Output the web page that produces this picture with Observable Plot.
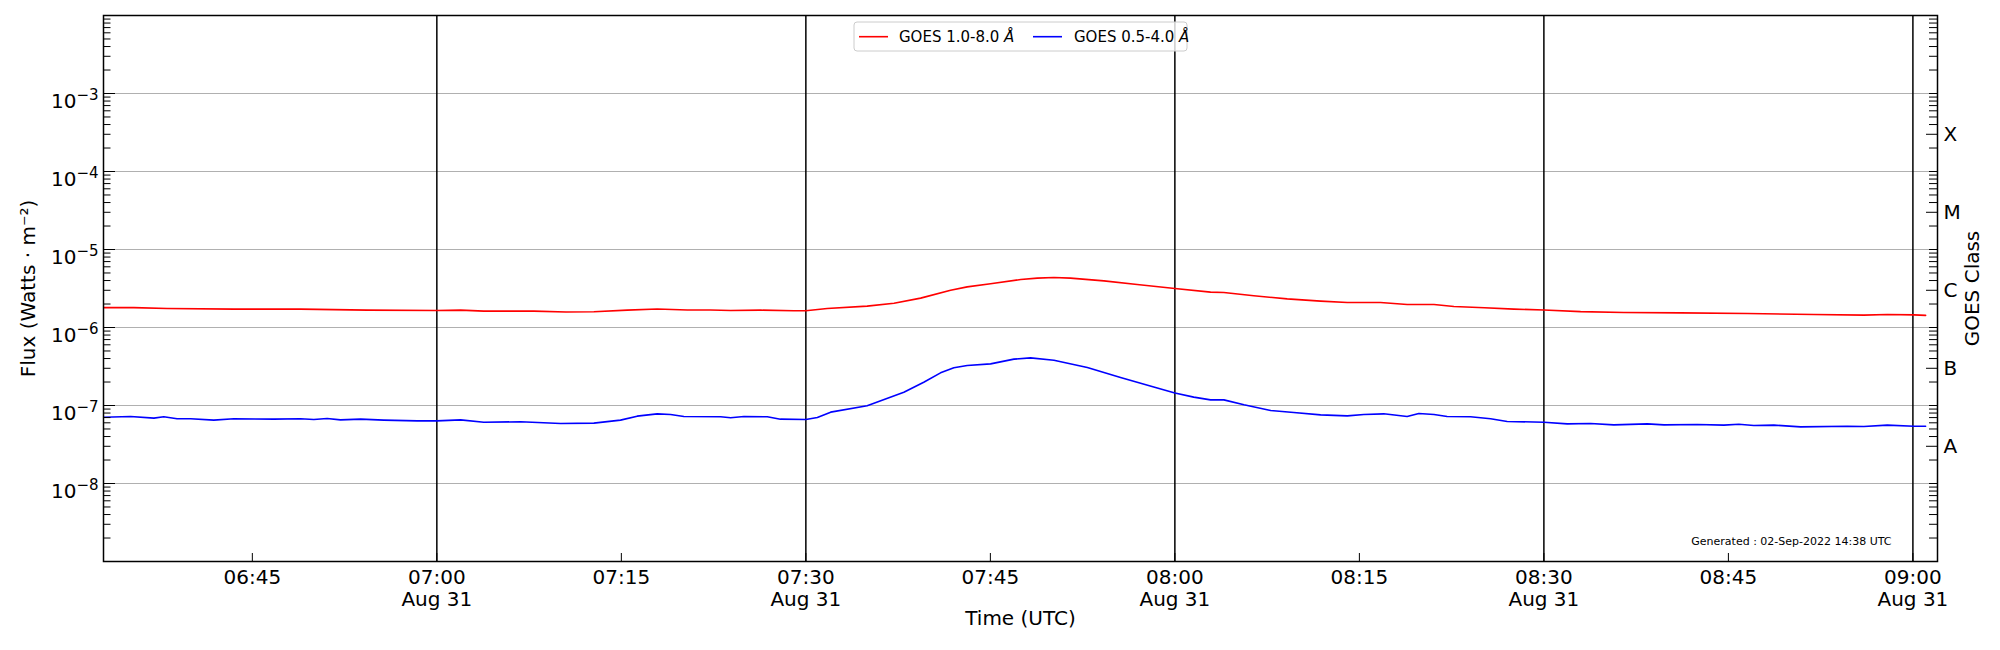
<!DOCTYPE html>
<html>
<head>
<meta charset="utf-8">
<script src="https://cdn.jsdelivr.net/npm/d3@7"></script>
<script src="https://cdn.jsdelivr.net/npm/@observablehq/plot@0.6"></script>
<style>
  html, body { margin: 0; padding: 0; background: #fff; }
  #chart { width: 2000px; height: 650px; }
</style>
</head>
<body>
<div id="chart"></div>
<script>
// ---- Data ----
const day = "2022-08-31";

const longTimes = ["06:32:56","06:35:22","06:38:05","06:43:30","06:48:55","06:54:20","07:00:00","07:01:56","07:03:49","07:07:53","07:10:30","07:12:46","07:15:29","07:17:55","07:20:22","07:22:15","07:23:53","07:26:19","07:29:01","07:30:00","07:31:44","07:34:59","07:37:10","07:39:20","07:41:46","07:43:07","07:45:01","07:47:28","07:48:49","07:50:10","07:51:31","07:54:14","07:56:56","08:00:00","08:02:54","08:03:59","08:06:25","08:09:08","08:11:51","08:14:01","08:16:43","08:18:53","08:21:04","08:22:41","08:25:10","08:27:34","08:30:00","08:32:59","08:36:30","08:41:07","08:46:32","08:51:57","08:56:01","08:57:55","09:00:05","09:01:02"];
const longFlux = [1.80e-6,1.80e-6,1.75e-6,1.72e-6,1.72e-6,1.67e-6,1.65e-6,1.67e-6,1.62e-6,1.62e-6,1.58e-6,1.59e-6,1.67e-6,1.73e-6,1.68e-6,1.68e-6,1.65e-6,1.67e-6,1.64e-6,1.64e-6,1.75e-6,1.88e-6,2.05e-6,2.38e-6,3.01e-6,3.32e-6,3.63e-6,4.12e-6,4.29e-6,4.37e-6,4.29e-6,3.96e-6,3.56e-6,3.16e-6,2.84e-6,2.81e-6,2.55e-6,2.33e-6,2.18e-6,2.09e-6,2.09e-6,1.97e-6,1.97e-6,1.86e-6,1.79e-6,1.72e-6,1.68e-6,1.60e-6,1.56e-6,1.54e-6,1.51e-6,1.47e-6,1.44e-6,1.47e-6,1.45e-6,1.43e-6];

const shortTimes = ["06:32:56","06:35:06","06:37:00","06:37:48","06:38:53","06:39:59","06:41:52","06:43:30","06:46:45","06:48:55","06:50:00","06:51:05","06:52:10","06:53:48","06:55:41","06:58:25","07:00:00","07:01:56","07:03:49","07:06:48","07:10:04","07:12:46","07:14:56","07:16:17","07:17:55","07:19:00","07:20:05","07:23:04","07:23:53","07:24:58","07:26:52","07:27:56","07:30:00","07:30:56","07:32:01","07:34:59","07:37:58","07:39:35","07:40:57","07:42:02","07:43:07","07:45:01","07:46:55","07:48:16","07:50:10","07:52:53","07:55:35","07:58:17","08:00:00","08:01:32","08:02:54","08:03:59","08:05:37","08:07:47","08:09:40","08:11:51","08:14:01","08:15:22","08:16:59","08:18:53","08:19:50","08:21:04","08:22:08","08:24:02","08:25:40","08:27:01","08:30:00","08:31:54","08:33:48","08:35:41","08:38:25","08:39:46","08:42:28","08:44:38","08:45:51","08:47:04","08:48:42","08:50:52","08:54:40","08:56:01","08:57:55","09:00:05","09:01:02"];
const shortFlux = [7.08e-8,7.23e-8,6.89e-8,7.16e-8,6.75e-8,6.75e-8,6.49e-8,6.75e-8,6.68e-8,6.75e-8,6.62e-8,6.82e-8,6.55e-8,6.68e-8,6.49e-8,6.35e-8,6.35e-8,6.55e-8,6.11e-8,6.18e-8,5.87e-8,5.94e-8,6.49e-8,7.30e-8,7.81e-8,7.67e-8,7.23e-8,7.16e-8,6.95e-8,7.23e-8,7.16e-8,6.68e-8,6.62e-8,7.02e-8,8.22e-8,9.91e-8,1.48e-7,1.99e-7,2.62e-7,3.04e-7,3.26e-7,3.42e-7,3.93e-7,4.08e-7,3.81e-7,3.07e-7,2.29e-7,1.73e-7,1.45e-7,1.28e-7,1.18e-7,1.18e-7,1.02e-7,8.63e-8,8.13e-8,7.59e-8,7.37e-8,7.67e-8,7.82e-8,7.23e-8,7.89e-8,7.67e-8,7.23e-8,7.16e-8,6.75e-8,6.24e-8,6.11e-8,5.82e-8,5.87e-8,5.65e-8,5.82e-8,5.65e-8,5.70e-8,5.60e-8,5.76e-8,5.54e-8,5.60e-8,5.32e-8,5.43e-8,5.38e-8,5.60e-8,5.43e-8,5.43e-8];

const xTickTimes = ["06:45","07:00","07:15","07:30","07:45","08:00","08:15","08:30","08:45","09:00"];
const ruleTimes = ["07:00","07:30","08:00","08:30","09:00"];
const dateLabel = "Aug 31";
const yGridValues = [1e-8,1e-7,1e-6,1e-5,1e-4,1e-3];
const classTicks = [3e-8,3e-7,3e-6,3e-5,3e-4];
const classLabels = ["A","B","C","M","X"];
const legendLabels = ["GOES 1.0-8.0 ", "GOES 0.5-4.0 "];
const seriesColors = ["red","blue"];
const generatedText = "Generated : 02-Sep-2022 14:38 UTC";

// ---- Build ----
const T = s => new Date(`${day}T${s.length === 5 ? s + ":00" : s}Z`);
const longData = longTimes.map((t, i) => ({time: T(t), flux: longFlux[i]}));
const shortData = shortTimes.map((t, i) => ({time: T(t), flux: shortFlux[i]}));
const xTicks = xTickTimes.map(T);
const rules = ruleTimes.map(T);
const classData = classTicks.map((v, i) => ({v, label: classLabels[i]}));

// log minor tick positions
const logTicks = [];
for (let e = -9; e < -2; e++) for (let m = 1; m < 10; m++) logTicks.push(+(m * Math.pow(10, e)).toPrecision(3));
logTicks.push(1e-2);
const leftMajor = logTicks.filter(v => Math.abs(Math.log10(v) - Math.round(Math.log10(v))) < 1e-6);
const leftMinor = logTicks.filter(v => !leftMajor.includes(v));
const rightMinor = logTicks.filter(v => !classTicks.some(c => Math.abs(c - v) / c < 1e-6));

const W = 2000, H = 650;
const mL = 103, mR = 63, mT = 15, mB = 89;
const pW = W - mL - mR, pH = H - mT - mB;

const fmtTime = d3.utcFormat("%H:%M");

const svg = Plot.plot({
  width: W, height: H,
  marginLeft: mL, marginRight: mR, marginTop: mT, marginBottom: mB,
  style: {fontFamily: "'DejaVu Sans', sans-serif", fontSize: "20px", color: "black", background: "white"},
  x: {type: "utc", domain: [T("06:32:54"), T("09:02:00")]},
  y: {type: "log", domain: [1e-9, 1e-2]},
  marks: [
    Plot.ruleY(yGridValues, {y: d => d, stroke: "#b0b0b0", strokeWidth: 1.2}),
    Plot.ruleX(rules, {x: d => d, stroke: "black", strokeWidth: 1.5}),
    Plot.lineY(longData, {x: "time", y: "flux", stroke: seriesColors[0], strokeWidth: 1.6}),
    Plot.lineY(shortData, {x: "time", y: "flux", stroke: seriesColors[1], strokeWidth: 1.6}),
    // inward ticks
    Plot.tickX(xTicks, {x: d => d, insetTop: pH - 8, stroke: "black", strokeWidth: 1}),
    Plot.tickY(leftMajor, {y: d => d, insetRight: pW - 12, stroke: "black", strokeWidth: 1}),
    Plot.tickY(leftMinor, {y: d => d, insetRight: pW - 7.5, stroke: "black", strokeWidth: 1}),
    Plot.tickY(classTicks, {y: d => d, insetLeft: pW - 11, stroke: "black", strokeWidth: 1}),
    Plot.tickY(rightMinor, {y: d => d, insetLeft: pW - 8, stroke: "black", strokeWidth: 1}),
    // axes
    Plot.axisX({ticks: xTicks, tickSize: 0, tickPadding: 6, fontSize: 20, lineHeight: 1.13,
      tickFormat: d => { const s = fmtTime(d); return d.getUTCMinutes() % 30 === 0 ? s + "\n" + dateLabel : s; },
      label: null}),
    Plot.axisY({ticks: yGridValues, tickSize: 0, tickPadding: 5, fontSize: 20,
      tickFormat: d => "10^" + Math.round(Math.log10(d)), label: null}),
    // GOES class labels (right axis)
    Plot.text(classData, {y: "v", text: "label", frameAnchor: "right", dx: 6, textAnchor: "start", fontSize: 20}),
    // axis titles
    Plot.text(["Time (UTC)"], {frameAnchor: "bottom", dy: 63, fontSize: 20, textAnchor: "middle", text: d => d}),
    Plot.text(["Flux (Watts · m⁻²)"], {frameAnchor: "left", dx: -75, rotate: -90, fontSize: 20, textAnchor: "middle", text: d => d}),
    Plot.text(["GOES Class"], {frameAnchor: "right", dx: 35, rotate: -90, fontSize: 20, textAnchor: "middle", text: d => d}),
    Plot.text([generatedText], {frameAnchor: "bottom-right", dx: -46, dy: -17, fontSize: 11, textAnchor: "end", text: d => d}),
    Plot.frame({stroke: "black", strokeWidth: 1.5})
  ]
});

// superscript exponents on y tick labels
d3.select(svg).selectAll("text").filter(function() { return /^10\^/.test(this.textContent); }).each(function() {
  const exp = this.textContent.slice(3).replace("-", "\u2212");
  const t = d3.select(this);
  t.text(null);
  t.attr("dy", "0.41em").style("font-size", "20px");
  t.append("tspan").text("10");
  t.append("tspan").attr("dy", "-0.57em").style("font-size", "15px").text(exp);
});

// legend (upper center, inside the frame)
const lg = d3.select(svg).append("g")
  .style("font-family", "'DejaVu Sans', sans-serif").style("font-size", "15px").attr("text-anchor", "start");
lg.append("rect").attr("x", 854).attr("y", 22).attr("width", 333).attr("height", 29).attr("rx", 3)
  .attr("fill", "white").attr("fill-opacity", 0.8).attr("stroke", "#cccccc").attr("stroke-width", 1);
const items = [{x0: 859, tx: 899}, {x0: 1033, tx: 1074}];
items.forEach((it, i) => {
  lg.append("line").attr("x1", it.x0).attr("x2", it.x0 + 29).attr("y1", 36.7).attr("y2", 36.7)
    .attr("stroke", seriesColors[i]).attr("stroke-width", 1.6);
  const tx = lg.append("text").attr("x", it.tx).attr("y", 36.7).attr("dy", "0.36em")
    .attr("fill", "black").style("text-anchor", "start").style("font-size", "15px");
  tx.append("tspan").text(legendLabels[i]);
  tx.append("tspan").style("font-style", "italic").text("Å");
});

document.getElementById("chart").appendChild(svg);
</script>
</body>
</html>
